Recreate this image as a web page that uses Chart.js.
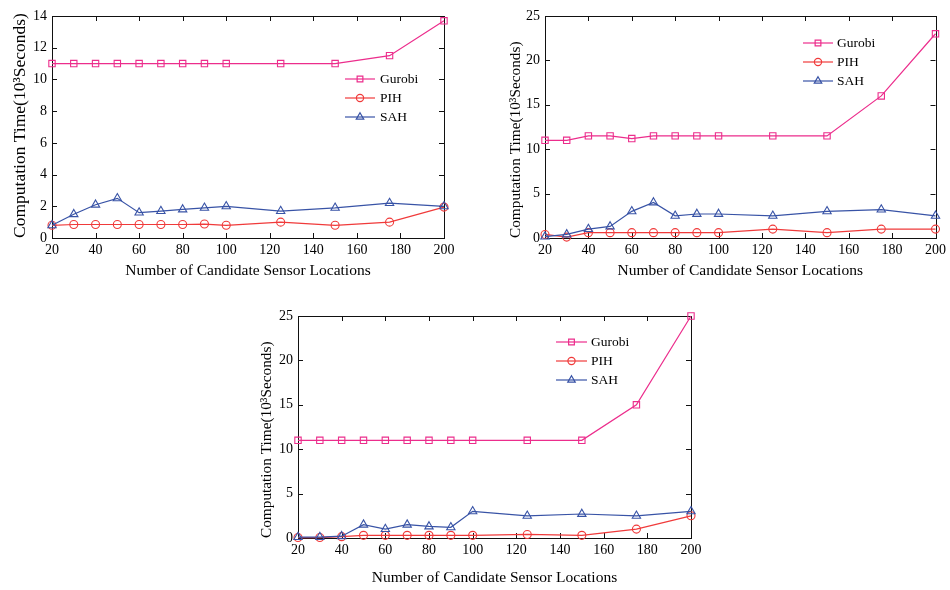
<!DOCTYPE html>
<html>
<head>
<meta charset="utf-8">
<script src="https://cdn.jsdelivr.net/npm/chart.js@4.4.0/dist/chart.umd.min.js"></script>
<style>
  html, body { margin: 0; padding: 0; background: #fff; }
  body { width: 950px; height: 590px; position: relative; overflow: hidden; }
  canvas { position: absolute; }
</style>
</head>
<body>
<canvas id="c1" width="475" height="280" style="left:0px;top:0px;"></canvas>
<canvas id="c2" width="475" height="280" style="left:475px;top:0px;"></canvas>
<canvas id="c3" width="470" height="290" style="left:240px;top:300px;"></canvas>
<script>
// ---- data ----
const locations = [20, 30, 40, 50, 60, 70, 80, 90, 100, 125, 150, 175, 200];
const seriesNames = ['Gurobi', 'PIH', 'SAH'];

// chart 1 (top-left)
const gurobi1 = [11, 11, 11, 11, 11, 11, 11, 11, 11, 11, 11, 11.5, 13.7];
const pih1    = [0.8, 0.85, 0.85, 0.85, 0.85, 0.85, 0.85, 0.88, 0.8, 1.0, 0.8, 1.0, 1.95];
const sah1    = [0.8, 1.5, 2.1, 2.5, 1.6, 1.7, 1.8, 1.9, 2.0, 1.7, 1.9, 2.2, 2.0];

// chart 2 (top-right)
const gurobi2 = [11, 11, 11.5, 11.5, 11.2, 11.5, 11.5, 11.5, 11.5, 11.5, 11.5, 16, 23];
const pih2    = [0.4, 0.1, 0.6, 0.6, 0.6, 0.6, 0.6, 0.6, 0.6, 1.0, 0.6, 1.0, 1.0];
const sah2    = [0.15, 0.4, 1.0, 1.3, 3.0, 4.0, 2.5, 2.7, 2.7, 2.5, 3.0, 3.2, 2.5];

// chart 3 (bottom)
const gurobi3 = [11, 11, 11, 11, 11, 11, 11, 11, 11, 11, 11, 15, 25];
const pih3    = [0.05, 0.05, 0.15, 0.3, 0.3, 0.3, 0.3, 0.3, 0.3, 0.4, 0.3, 1.0, 2.5];
const sah3    = [0.1, 0.1, 0.2, 1.5, 1.0, 1.5, 1.3, 1.2, 3.0, 2.5, 2.7, 2.5, 3.0];

const xTitle = 'Number of Candidate Sensor Locations';
const yTitle = 'Computation Time(10\u00B3Seconds)';

// ---- styling ----
const COLORS = ['#ec2d8c', '#f03a3a', '#3853a6'];
const STYLES = ['rect', 'circle', 'triangle'];
const RADII = [4.5, 4, 4.8];

Chart.defaults.font.family = "'Liberation Serif', 'Times New Roman', serif";
Chart.defaults.color = '#000';

function drawMarker(ctx, style, r, x, y) {
  ctx.beginPath();
  if (style === 'rect') {
    const s = Math.SQRT1_2 * r;
    ctx.rect(x - s, y - s, 2 * s, 2 * s);
  } else if (style === 'circle') {
    ctx.arc(x, y, r, 0, Math.PI * 2);
  } else {
    ctx.moveTo(x, y - r);
    ctx.lineTo(x + Math.sin(2 * Math.PI / 3) * r, y - Math.cos(2 * Math.PI / 3) * r);
    ctx.lineTo(x + Math.sin(4 * Math.PI / 3) * r, y - Math.cos(4 * Math.PI / 3) * r);
    ctx.closePath();
  }
  ctx.stroke();
}

const framePlugin = {
  id: 'frame',
  beforeDatasetsDraw(chart) {
    const ctx = chart.ctx, a = chart.chartArea;
    const xs = chart.scales.x, ys = chart.scales.y;
    ctx.save();
    ctx.strokeStyle = '#111';
    ctx.lineWidth = 1;
    ctx.strokeRect(Math.round(a.left) + 0.5, Math.round(a.top) + 0.5,
                   Math.round(a.right - a.left), Math.round(a.bottom - a.top));
    const L = 5;
    ctx.beginPath();
    xs.ticks.forEach(t => {
      const px = Math.round(xs.getPixelForValue(t.value)) + 0.5;
      ctx.moveTo(px, a.bottom); ctx.lineTo(px, a.bottom - L);
      ctx.moveTo(px, a.top); ctx.lineTo(px, a.top + L);
    });
    ys.ticks.forEach(t => {
      const py = Math.round(ys.getPixelForValue(t.value)) + 0.5;
      ctx.moveTo(a.left, py); ctx.lineTo(a.left + L, py);
      ctx.moveTo(a.right, py); ctx.lineTo(a.right - L, py);
    });
    ctx.stroke();
    ctx.restore();
  },
  afterDraw(chart, args, opts) {
    const ctx = chart.ctx;
    ctx.save();
    ctx.font = "13.5px 'Liberation Serif', 'Times New Roman', serif";
    ctx.textBaseline = 'middle';
    ctx.textAlign = 'left';
    chart.data.datasets.forEach((ds, i) => {
      const y = opts.top + i * opts.gap;
      ctx.strokeStyle = ds.borderColor;
      ctx.lineWidth = 1.2;
      ctx.beginPath();
      ctx.moveTo(opts.x1, y); ctx.lineTo(opts.x2, y);
      ctx.stroke();
      drawMarker(ctx, ds.pointStyle, ds.pointRadius * 0.9, (opts.x1 + opts.x2) / 2, y);
      ctx.fillStyle = '#000';
      ctx.fillText(ds.label, opts.textX, y);
    });
    ctx.restore();
  }
};

function makeChart(id, series, cfg) {
  const datasets = series.map((vals, i) => ({
    label: seriesNames[i],
    data: locations.map((x, j) => ({ x: x, y: vals[j] })),
    borderColor: COLORS[i],
    backgroundColor: 'rgba(0,0,0,0)',
    borderWidth: 1.2,
    pointStyle: STYLES[i],
    pointRadius: RADII[i],
    pointBorderWidth: 1.1,
    pointBorderColor: COLORS[i],
    pointBackgroundColor: 'rgba(0,0,0,0)',
    tension: 0,
    clip: false,
    order: 3 - i
  }));
  return new Chart(document.getElementById(id), {
    type: 'line',
    data: { datasets },
    options: {
      responsive: false,
      animation: false,
      devicePixelRatio: 1,
      layout: { padding: { top: 16, right: cfg.padRight, left: 0, bottom: cfg.padBottom } },
      plugins: {
        legend: { display: false },
        tooltip: { enabled: false },
        frame: cfg.legend
      },
      scales: {
        x: {
          type: 'linear',
          min: 20, max: 200,
          grid: { display: false, drawTicks: false },
          border: { display: false },
          ticks: { stepSize: 20, font: { size: 14 }, padding: 4, maxRotation: 0 },
          title: { display: true, text: xTitle, font: { size: 15.5 }, padding: { top: 0, bottom: 0 } },
          afterFit: s => { s.height = cfg.xHeight; }
        },
        y: {
          min: 0, max: cfg.yMax,
          grid: { display: false, drawTicks: false },
          border: { display: false },
          ticks: { stepSize: cfg.yStep, font: { size: 14 }, padding: cfg.yPad },
          title: { display: true, text: yTitle, align: 'start', font: { size: cfg.yTitleSize }, padding: { top: cfg.yTitlePad, bottom: 0 } },
          afterFit: s => { s.width = cfg.yWidth; }
        }
      }
    },
    plugins: [framePlugin]
  });
}

makeChart('c1', [gurobi1, pih1, sah1], {
  yMax: 14, yStep: 2, padRight: 31, padBottom: 0, xHeight: 42, yWidth: 52, yPad: 5,
  yTitleSize: 17.5, yTitlePad: 10,
  legend: { x1: 345, x2: 375, textX: 380, top: 79, gap: 19 }
});
makeChart('c2', [gurobi2, pih2, sah2], {
  yMax: 25, yStep: 5, padRight: 12, padBottom: 0, xHeight: 42, yWidth: 70, yPad: 5,
  yTitleSize: 15.3, yTitlePad: 32,
  legend: { x1: 328, x2: 358, textX: 362, top: 43, gap: 19 }
});
makeChart('c3', [gurobi3, pih3, sah3], {
  yMax: 25, yStep: 5, padRight: 19, padBottom: 3, xHeight: 49, yWidth: 58, yPad: 5,
  yTitleSize: 15.3, yTitlePad: 18,
  legend: { x1: 316, x2: 347, textX: 351, top: 42, gap: 19 }
});
</script>
</body>
</html>
